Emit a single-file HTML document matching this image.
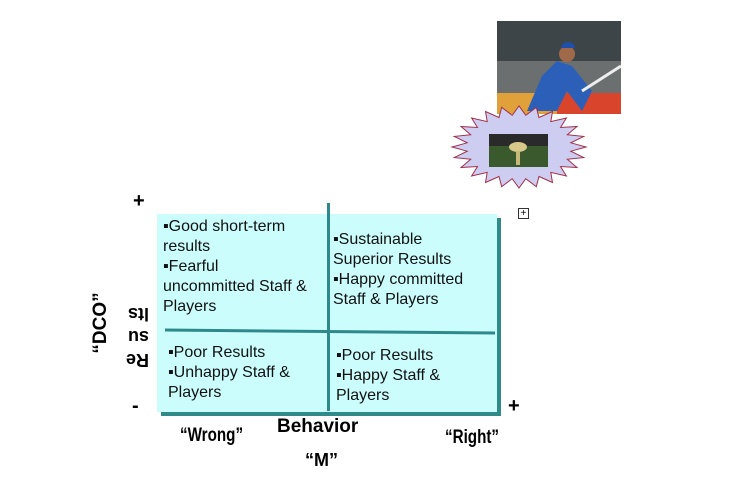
<!DOCTYPE html>
<html><head><meta charset="utf-8"><style>
body{margin:0;width:736px;height:489px;background:#fff;position:relative;overflow:hidden;font-family:"Liberation Sans",Arial,sans-serif}
.a{position:absolute}
.t{font-size:16px;line-height:20px;color:#111}
.b{font-weight:bold}
</style></head><body>
<svg class="a" style="left:497px;top:21px" width="124" height="93">
<rect width="124" height="93" fill="#6b6f70"/>
<rect y="0" width="124" height="40" fill="#3e4548"/>
<rect y="72" width="124" height="21" fill="#e0a03a"/>
<rect x="60" y="72" width="64" height="21" fill="#d8442c"/>
<path d="M30 90 L45 55 L60 40 L75 45 L95 70 L85 90 L70 70 L60 90Z" fill="#2b5fb8"/>
<circle cx="70" cy="33" r="8" fill="#a06a4a"/>
<path d="M64 27 a7 6 0 0 1 14 0z" fill="#1f4fa8"/>
<line x1="85" y1="70" x2="124" y2="45" stroke="#eee" stroke-width="3"/>
</svg>
<svg class="a" style="left:450px;top:105px" width="140" height="86">
<polygon id="sb" fill="#cdcdf2" stroke="#a3304a" stroke-width="1"/>
<rect x="39" y="29" width="59" height="33" fill="#3a5a2e"/>
<rect x="39" y="29" width="59" height="12" fill="#2a2a2a"/>
<ellipse cx="68" cy="42" rx="9" ry="5" fill="#d8c88a"/>
<rect x="66" y="46" width="4" height="14" fill="#c8b878"/>
</svg>
<script>
var p=[],n=24,cx=69,cy=42;for(var i=0;i<n*2;i++){var a=Math.PI*i/n,r=i%2?0.78:1;p.push((cx+67*r*Math.cos(a)).toFixed(1)+","+(cy+41*r*Math.sin(a)).toFixed(1));}
document.getElementById('sb').setAttribute('points',p.join(' '));
</script>
<div class="a" style="left:518px;top:208px;width:9px;height:9px;border:1px solid #333;font-size:10px;line-height:9px;text-align:center">+</div>
<div class="a" style="left:161px;top:218px;width:340px;height:198px;background:#2f8a8a"></div>
<div class="a" style="left:157px;top:214px;width:340px;height:198px;background:#ccfdfd"></div>
<div class="a" style="left:327px;top:203px;width:3px;height:208px;background:#2e8a8a"></div>
<div class="a" style="left:165px;top:330px;width:330px;height:3px;background:#2e8a8a;transform:rotate(0.5deg)"></div>
<div class="a t" style="left:163px;top:217px">▪Good short-term<br>results<br>▪Fearful<br>uncommitted Staff &amp;<br>Players</div>
<div class="a t" style="left:333px;top:230px">▪Sustainable<br>Superior Results<br>▪Happy committed<br>Staff &amp; Players</div>
<div class="a t" style="left:168px;top:343px">▪Poor Results<br>▪Unhappy Staff &amp;<br>Players</div>
<div class="a t" style="left:336px;top:346px">▪Poor Results<br>▪Happy Staff &amp;<br>Players</div>
<div class="a b" style="left:133px;top:190px;font-size:20px">+</div>
<div class="a b" style="left:132px;top:395px;font-size:20px">-</div>
<div class="a b" style="left:508px;top:395px;font-size:20px">+</div>
<div class="a b" style="left:277px;top:416px;font-size:19px">Behavior</div>
<div class="a b" style="left:180px;top:425px;font-size:19px;transform:scaleX(0.8);transform-origin:left">“Wrong”</div>
<div class="a b" style="left:445px;top:427px;font-size:19px;transform:scaleX(0.8);transform-origin:left">“Right”</div>
<div class="a b" style="left:305px;top:450px;font-size:18px">“M”</div>
<div class="a b" style="left:66px;top:312px;width:70px;text-align:center;font-size:19px;transform:rotate(-90deg)">“DCO”</div>
<div class="a b" style="left:126px;top:302px;font-size:18px;line-height:23px;text-align:left;transform:rotate(180deg)">Re<br>su<br>lts</div>
</body></html>
